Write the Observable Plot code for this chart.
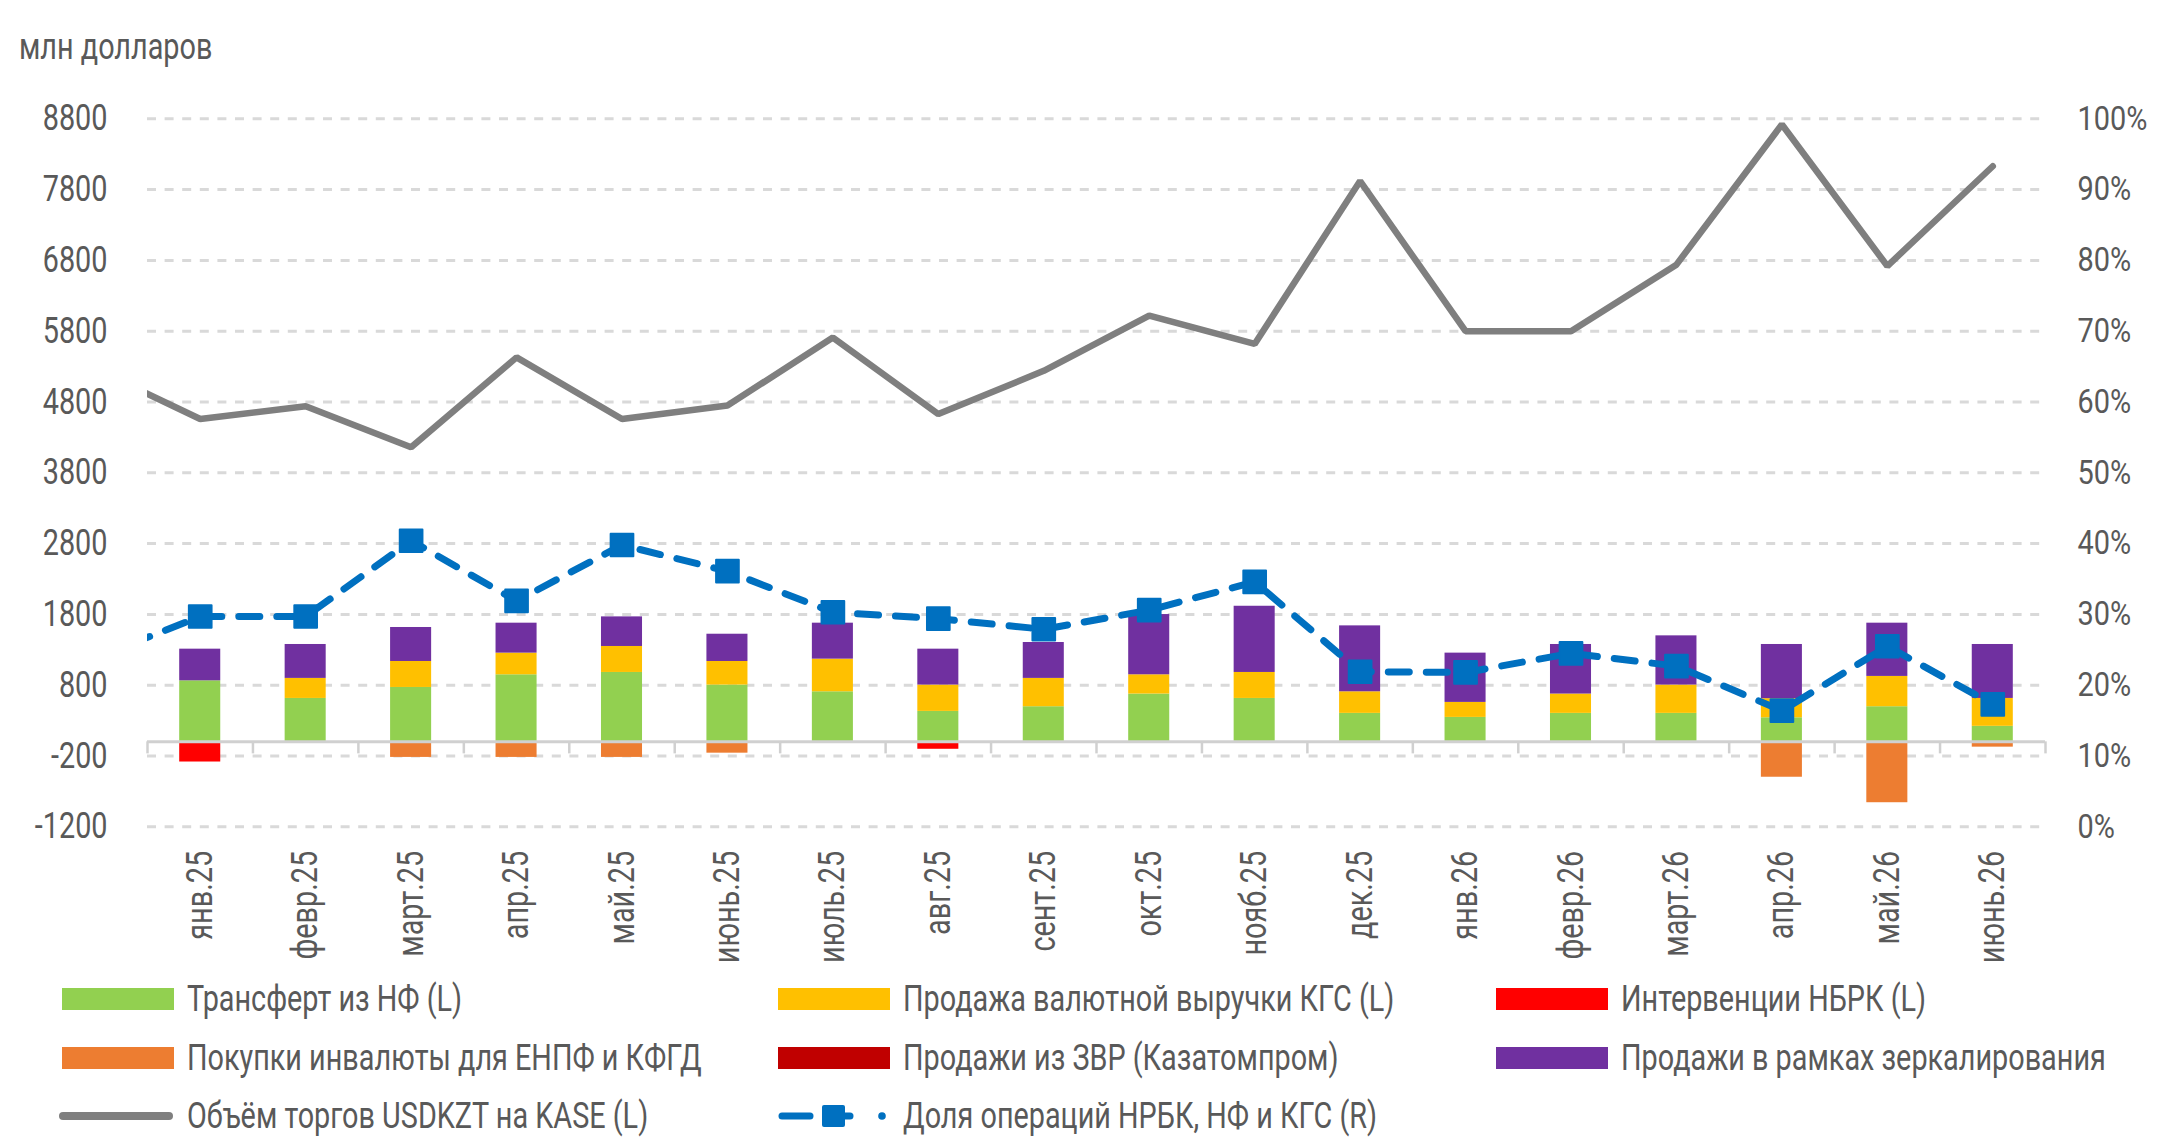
<!DOCTYPE html>
<html lang="ru">
<head>
<meta charset="utf-8">
<title>Операции на валютном рынке</title>
<script src="https://cdn.jsdelivr.net/npm/d3@7"></script>
<script src="https://cdn.jsdelivr.net/npm/@observablehq/plot@0.6"></script>
<style>
  html, body { margin: 0; background: #fff; }
  body {
    width: 2160px; height: 1145px; position: relative; overflow: hidden;
    font-family: Roboto, "DejaVu Sans", sans-serif;
    color: #595959;
  }
  .narrow { display: inline-block; transform: scaleX(0.8); transform-origin: left center; white-space: nowrap; }
  #unit { position: absolute; left: 19px; top: 29px; font-size: 36px; line-height: 1; z-index: 2; }
  #chart { position: absolute; left: 0; top: 60px; z-index: 1; }
  .lg { position: absolute; display: flex; align-items: center; font-size: 36px; line-height: 1; white-space: nowrap; transform: translateY(-50%); }
  .lg svg { margin-right: 13px; flex: none; }
</style>
</head>
<body>
<div id="unit"><span class="narrow">млн долларов</span></div>
<div id="chart"></div>
<div id="legend"></div>
<script>
// Months on the category axis
const months = ["янв.25","февр.25","март.25","апр.25","май.25","июнь.25","июль.25","авг.25","сент.25","окт.25","нояб.25","дек.25",
                "янв.26","февр.26","март.26","апр.26","май.26","июнь.26"];

// Stacked components, млн долларов (left axis)
const transferNF   = [862, 613, 768, 947, 980, 802, 707, 430, 496, 675, 613, 402, 345, 402, 402, 340, 496, 219];
const salesKGS     = [0, 283, 367, 306, 367, 333, 461, 372, 400, 272, 367, 305, 212, 273, 400, 270, 428, 394];
const interventions= [-285, 0, 0, 0, 0, 0, 0, -105, 0, 0, 0, 0, 0, 0, 0, 0, 0, 0];
const purchasesENPF= [0, 0, -220, -220, -220, -160, 0, 0, 0, 0, 0, 0, 0, 0, 0, -500, -860, -75];
const salesZVR     = [0, 0, 0, 0, 0, 0, 0, 0, 0, 0, 0, 0, 0, 0, 0, 0, 0, 0];
const mirroring    = [447, 479, 480, 423, 418, 385, 508, 507, 507, 851, 935, 931, 696, 700, 695, 765, 752, 762];

// Trading volume USDKZT on KASE, млн долларов (left axis); the preceding month sits just outside the frame
const kasePrev   = 5270;
const kaseVolume = [4560, 4740, 4160, 5430, 4560, 4750, 5710, 4630, 5240, 6020, 5620, 7920, 5800, 5800, 6740, 8720, 6720, 8130];

// Share of NBK, NF and KGS operations, % (right axis)
const sharePrev = 23.8;
const shareOps  = [29.7, 29.7, 40.4, 31.9, 39.8, 36.1, 30.3, 29.4, 27.9, 30.6, 34.6, 21.9, 21.8, 24.5, 22.7, 16.4, 25.5, 17.3];

// Axis ticks
const leftTicks  = [-1200, -200, 800, 1800, 2800, 3800, 4800, 5800, 6800, 7800, 8800];
const rightTicks = [0, 10, 20, 30, 40, 50, 60, 70, 80, 90, 100];

// Right axis: 0% … 100% spans the same height as -1200 … 8800
const pctToY = p => p * 100 - 1200;

const series = [
  {name: "Трансферт из НФ (L)",               color: "#92D050", values: transferNF},
  {name: "Продажа валютной выручки КГС (L)",  color: "#FFC000", values: salesKGS},
  {name: "Интервенции НБРК (L)",              color: "#FF0000", values: interventions},
  {name: "Покупки инвалюты для ЕНПФ и КФГД",  color: "#ED7D31", values: purchasesENPF},
  {name: "Продажи из ЗВР (Казатомпром)",      color: "#C00000", values: salesZVR},
  {name: "Продажи в рамках зеркалирования",   color: "#7030A0", values: mirroring}
];

const barRows = series.flatMap(s => s.values.map((v, k) => ({i: k + 1, v, color: s.color}))).filter(d => d.v !== 0);
const kaseRows  = [{i: 0, v: kasePrev}, ...kaseVolume.map((v, k) => ({i: k + 1, v}))];
const shareRows = [{i: 0, p: sharePrev}, ...shareOps.map((p, k) => ({i: k + 1, p}))];
const boundaries = [0, ...months.map((m, k) => k + 1)].map(k => k + 0.5);

const chart = Plot.plot({
  width: 2160,
  height: 905,
  marginTop: 58.3,
  marginBottom: 138.7,
  marginLeft: 147,
  marginRight: 115,
  x: {type: "linear", domain: [0.5, 18.5], label: null},
  y: {domain: [-1200, 8800], label: null},
  color: {type: "identity"},
  style: {fontFamily: 'Roboto, "DejaVu Sans", sans-serif', fontSize: "36px", color: "#595959", background: "none", overflow: "visible"},
  marks: [
    Plot.gridY(leftTicks, {stroke: "#d9d9d9", strokeOpacity: 1, strokeWidth: 3, strokeDasharray: "9,8.6"}),
    Plot.rectY(barRows, Plot.stackY({x1: d => d.i - 0.5, x2: d => d.i + 0.5, y: "v", fill: "color", insetLeft: 32.2, insetRight: 32.2})),
    Plot.ruleY([0], {stroke: "#d0d0d0", strokeWidth: 3}),
    Plot.ruleX(boundaries, {x: d => d, y1: 0, y2: -170, stroke: "#d0d0d0", strokeWidth: 2.5}),
    Plot.line(kaseRows, {x: "i", y: "v", stroke: "#7f7f7f", strokeWidth: 6.5, strokeLinejoin: "miter", clip: true}),
    Plot.line(shareRows, {x: "i", y: d => pctToY(d.p), stroke: "#0070C0", strokeWidth: 7, strokeLinecap: "round", strokeDasharray: "21,17", clip: true}),
    Plot.dot(shareRows.filter(d => d.i > 0), {x: "i", y: d => pctToY(d.p), symbol: "square", r: 12.8, fill: "#0070C0", stroke: "#0070C0", strokeWidth: 2, strokeLinejoin: "round"}),
    Plot.axisY(leftTicks, {anchor: "left", tickSize: 0, tickPadding: 40, tickFormat: d => String(d)}),
    Plot.axisY(rightTicks.map(pctToY), {anchor: "right", tickSize: 0, tickPadding: 32, fontSize: 34, tickFormat: y => Math.round((y + 1200) / 100) + "%"}),
    Plot.axisX(months.map((m, k) => k + 1), {anchor: "bottom", tickSize: 0, tickPadding: 24, tickRotate: -90, tickFormat: i => months[i - 1]})
  ]
});
document.getElementById("chart").append(chart);

// Condensed lettering: squeeze each label along its own direction
for (const t of chart.querySelectorAll("text")) {
  const w = t.getComputedTextLength();
  if (w > 0) {
    const squeeze = t.textContent.endsWith("%") ? 0.85 : 0.8;
    t.setAttribute("textLength", (w * squeeze).toFixed(1));
    t.setAttribute("lengthAdjust", "spacingAndGlyphs");
  }
}

// Legend below the chart
const legendItems = [
  {name: series[0].name, kind: "rect", color: series[0].color, left: 62,   top: 999},
  {name: series[1].name, kind: "rect", color: series[1].color, left: 778,  top: 999},
  {name: series[2].name, kind: "rect", color: series[2].color, left: 1496, top: 999},
  {name: series[3].name, kind: "rect", color: series[3].color, left: 62,   top: 1058},
  {name: series[4].name, kind: "rect", color: series[4].color, left: 778,  top: 1058},
  {name: series[5].name, kind: "rect", color: series[5].color, left: 1496, top: 1058},
  {name: "Объём торгов USDKZT на KASE (L)", kind: "line", color: "#7f7f7f", left: 58, top: 1116},
  {name: "Доля операций НРБК, НФ и КГС (R)", kind: "dash", color: "#0070C0", left: 778, top: 1116}
];
const legend = document.getElementById("legend");
for (const it of legendItems) {
  const div = document.createElement("div");
  div.className = "lg";
  div.style.left = it.left + "px";
  div.style.top = it.top + "px";
  let sw;
  if (it.kind === "rect") {
    sw = `<svg width="112" height="24"><rect x="0" y="1" width="112" height="22" fill="${it.color}"/></svg>`;
  } else if (it.kind === "line") {
    sw = `<svg width="116" height="24"><line x1="5" x2="111" y1="12" y2="12" stroke="${it.color}" stroke-width="8" stroke-linecap="round"/></svg>`;
  } else {
    sw = `<svg width="112" height="28"><line x1="4" x2="32" y1="14" y2="14" stroke="${it.color}" stroke-width="7" stroke-linecap="round"/>` +
         `<rect x="44" y="3" width="23" height="22" rx="2" fill="${it.color}"/>` +
         `<line x1="66" x2="72" y1="14" y2="14" stroke="${it.color}" stroke-width="7" stroke-linecap="round"/>` +
         `<circle cx="104" cy="14" r="3.8" fill="${it.color}"/></svg>`;
  }
  div.innerHTML = sw + `<span class="narrow">${it.name}</span>`;
  legend.append(div);
}
</script>
</body>
</html>
